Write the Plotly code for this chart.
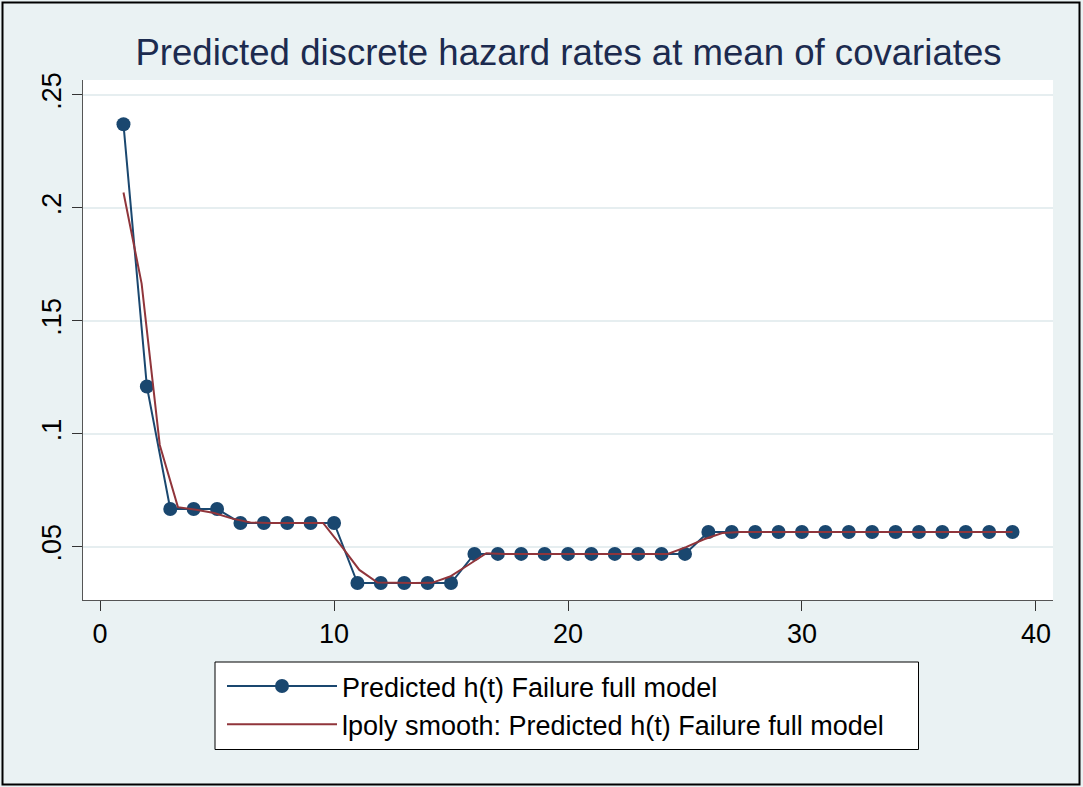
import plotly.graph_objects as go

# Predicted discrete hazard h(t) by period
periods = list(range(1, 40))
hazard = [0.237, 0.121, 0.0668, 0.0668, 0.0668,
          0.0606, 0.0606, 0.0606, 0.0606, 0.0606,
          0.0340, 0.0340, 0.0340, 0.0340, 0.0340,
          0.0469, 0.0469, 0.0469, 0.0469, 0.0469,
          0.0469, 0.0469, 0.0469, 0.0469, 0.0469,
          0.0566, 0.0566, 0.0566, 0.0566, 0.0566, 0.0566, 0.0566,
          0.0566, 0.0566, 0.0566, 0.0566, 0.0566, 0.0566, 0.0566]

# lpoly smooth evaluated on its 50-point grid
smooth_t = [1.000, 1.776, 2.551, 3.327, 4.102, 4.878, 5.653, 6.429, 7.204, 7.980,
            8.755, 9.531, 10.306, 11.082, 11.857, 12.633, 13.408, 14.184, 14.959, 15.735,
            16.510, 17.286, 18.061, 18.837, 19.612, 20.388, 21.163, 21.939, 22.714, 23.490,
            24.265, 25.041, 25.816, 26.592, 27.367, 28.143, 28.918, 29.694, 30.469, 31.245,
            32.020, 32.796, 33.571, 34.347, 35.122, 35.898, 36.673, 37.449, 38.224, 39.000]
smooth_h = [0.2068, 0.1665, 0.0951, 0.0676, 0.0664, 0.0650, 0.0625, 0.0608, 0.0606, 0.0606,
            0.0606, 0.0606, 0.0504, 0.0398, 0.0342, 0.0340, 0.0340, 0.0341, 0.0369, 0.0420,
            0.0472, 0.0469, 0.0469, 0.0469, 0.0469, 0.0469, 0.0469, 0.0469, 0.0469, 0.0469,
            0.0469, 0.0499, 0.0534, 0.0561, 0.0566, 0.0566, 0.0566, 0.0566, 0.0566, 0.0566,
            0.0566, 0.0566, 0.0566, 0.0566, 0.0566, 0.0566, 0.0566, 0.0566, 0.0566, 0.0566]

x_ticks = [0, 10, 20, 30, 40]
y_ticks = [0.05, 0.10, 0.15, 0.20, 0.25]
y_tick_text = [".05", ".1", ".15", ".2", ".25"]

title_text = "Predicted discrete hazard rates at mean of covariates"
name_pred = "Predicted h(t) Failure full model"
name_smooth = "lpoly smooth: Predicted h(t) Failure full model"

NAVY = "#1A476F"
MAROON = "#90353B"
BG = "#EAF2F3"
FONT = "Liberation Sans, Arial, sans-serif"

W, H = 1083, 787
L, R, T, B = 83, 30, 80, 187
pw, ph = W - L - R, H - T - B


def px_x(p):
    return (p - L) / pw


def px_y(p):
    return (H - B - p) / ph


fig = go.Figure()
fig.add_trace(go.Scatter(
    x=periods, y=hazard, mode="lines+markers", name=name_pred,
    line=dict(color=NAVY, width=2),
    marker=dict(color=NAVY, size=14, line=dict(width=0)),
))
fig.add_trace(go.Scatter(
    x=smooth_t, y=smooth_h, mode="lines", name=name_smooth,
    line=dict(color=MAROON, width=2),
))

fig.update_layout(
    width=W, height=H,
    margin=dict(l=L, r=R, t=T, b=B),
    paper_bgcolor=BG, plot_bgcolor="white",
    font=dict(family=FONT, color="black", size=27),
    title=dict(text=title_text, x=px_x(568.5), xref="paper", xanchor="center",
               y=1 - 52 / H, yref="container", yanchor="middle",
               font=dict(size=36.6, color="#1C2B4F", family=FONT)),
    xaxis=dict(range=[-0.73, 40.73], tickvals=x_ticks, ticks="outside", ticklen=10,
               tickwidth=1, tickcolor="#333333", showline=True, linecolor="#555555",
               linewidth=1, showgrid=False, zeroline=False,
               tickfont=dict(size=27, family=FONT, color="black")),
    yaxis=dict(range=[0.0265, 0.2566], tickvals=y_ticks, ticktext=y_tick_text,
               ticks="outside", ticklen=10, tickwidth=1, tickcolor="#333333",
               tickangle=-90, showline=True, linecolor="#555555", linewidth=1,
               showgrid=True, gridcolor="#E6EEF0", gridwidth=2, zeroline=False,
               tickfont=dict(size=27, family=FONT, color="black")),
    showlegend=True,
    legend=dict(x=px_x(222), y=px_y(662), xanchor="left", yanchor="top",
                bgcolor="rgba(0,0,0,0)", borderwidth=0, itemwidth=110,
                font=dict(size=27, family=FONT, color="black"),
                tracegroupgap=0),
    shapes=[
        # legend frame
        dict(type="rect", xref="paper", yref="paper",
             x0=px_x(215), x1=px_x(918.5), y0=px_y(662), y1=px_y(749.5),
             fillcolor="white", line=dict(color="black", width=1), layer="below"),
        # outer frame
        dict(type="rect", xref="paper", yref="paper",
             x0=px_x(2.5), x1=px_x(1079.5), y0=px_y(2.5), y1=px_y(784.5),
             line=dict(color="black", width=2), fillcolor="rgba(0,0,0,0)"),
    ],
)

fig.write_html("out.html")
